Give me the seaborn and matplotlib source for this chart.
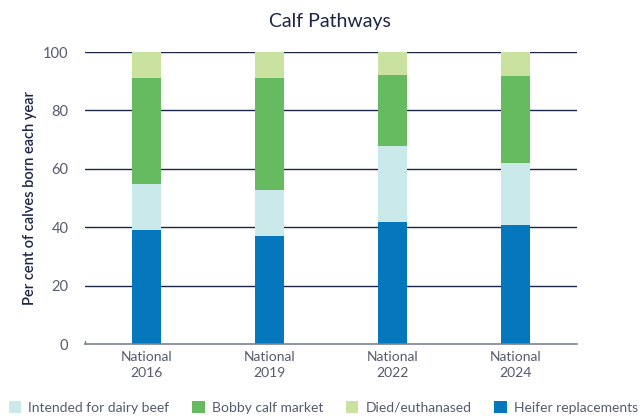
import matplotlib
matplotlib.use("Agg")
import matplotlib.pyplot as plt
import seaborn as sns
import pandas as pd
import numpy as np

categories = ["National\n2016", "National\n2019", "National\n2022", "National\n2024"]
heifer = [39.2, 37.1, 41.9, 40.9]
dairy_beef = [15.7, 15.8, 26.0, 21.2]
bobby = [36.3, 38.3, 24.3, 29.8]
died = [8.8, 8.8, 7.8, 8.1]
y_ticks = [0, 20, 40, 60, 80, 100]

series = [
    ("Heifer replacements", heifer, "#0477bd"),
    ("Intended for dairy beef", dairy_beef, "#c9e9ea"),
    ("Bobby calf market", bobby, "#66bb60"),
    ("Died/euthanased", died, "#c9e2a0"),
]

sns.set_theme(style="white")
plt.rcParams['font.family'] = ['Lato', 'DejaVu Sans']

fig = plt.figure(figsize=(6.4, 4.16), dpi=100)
ax = fig.add_axes([0.133, 0.173, 0.769, 0.702])

navy = "#1c2448"
grey = "#555a70"

for y in [20, 40, 60, 80, 100]:
    ax.axhline(y, color="#1c2448", lw=1.0, zorder=0)

bottom = np.zeros(len(categories))
for name, vals, col in series:
    df = pd.DataFrame({"cat": categories, "val": vals})
    sns.barplot(data=df, x="cat", y="val", color=col, width=0.236, bottom=bottom,
                ax=ax, zorder=2, saturation=1, linewidth=0, label=name)
    bottom = bottom + np.array(vals)

ax.set_ylim(0, 100)
ax.set_xlim(-0.5, 3.5)
ax.set_yticks(y_ticks)
ax.set_yticklabels([str(t) for t in y_ticks], color=grey, fontsize=10.5)
ax.set_xticks(range(len(categories)))
ax.set_xticklabels(categories, color=grey, fontsize=10, linespacing=1.45)
ax.tick_params(axis='y', length=0, pad=12)
ax.tick_params(axis='x', length=0, pad=5)
ax.set_xlabel("")
ax.set_ylabel("Per cent of calves born each year", color=navy, fontsize=10.5,
              fontweight="semibold", labelpad=4)

for s in ["top", "right", "left"]:
    ax.spines[s].set_visible(False)
ax.spines["bottom"].set_color("#7a7f92")
ax.spines["bottom"].set_linewidth(1.2)
ax.plot([0, 0], [0, 0.012], transform=ax.transAxes, color="#7a7f92", lw=1.0, clip_on=False)

fig.text(0.515, 0.948, "Calf Pathways", ha="center", va="center", fontsize=14, color=navy)

h, l = ax.get_legend_handles_labels()
lab_order = ["Intended for dairy beef", "Bobby calf market", "Died/euthanased", "Heifer replacements"]
hmap = dict(zip(l, h))
ax.legend([hmap[n] for n in lab_order], lab_order, loc="center", bbox_to_anchor=(0.505, 0.02),
          bbox_transform=fig.transFigure, ncol=4, frameon=False, fontsize=10,
          handlelength=0.9, handleheight=0.9, handletextpad=0.5, columnspacing=1.65,
          labelcolor=grey)

fig.savefig("out.png", dpi=100)
